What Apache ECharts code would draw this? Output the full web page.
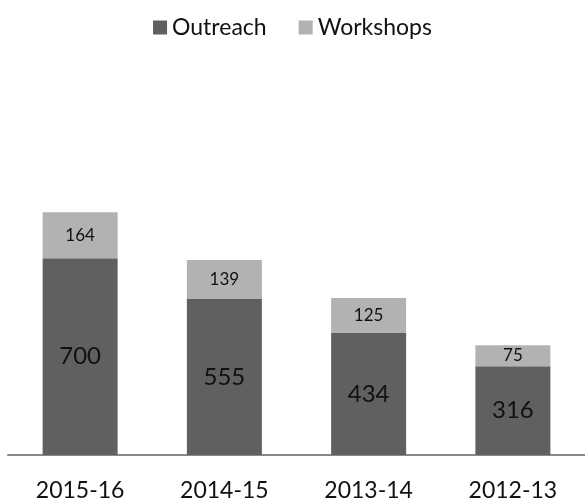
<!DOCTYPE html>
<html>
<head>
<meta charset="utf-8">
<script src="https://cdn.jsdelivr.net/npm/echarts@6/dist/echarts.min.js"></script>
<style>
  html, body { margin: 0; padding: 0; background: #fff; }
  #chart { width: 585px; height: 502px; }
</style>
</head>
<body>
<div id="chart"></div>
<script>
const categories = ["2015-16", "2014-15", "2013-14", "2012-13"];
const outreach = [700, 555, 434, 316];
const workshops = [164, 139, 125, 75];

const font = "Lato, 'Open Sans', sans-serif";
const chart = echarts.init(document.getElementById("chart"));
chart.setOption({
  animation: false,
  color: ["#606060", "#b2b2b2"],
  legend: {
    top: 11,
    left: "center",
    itemWidth: 14,
    itemHeight: 14,
    itemGap: 32,
    icon: "rect",
    textStyle: { fontFamily: font, fontSize: 23, color: "#111" },
    data: ["Outreach", "Workshops"],
  },
  grid: {
    left: 8,
    width: 584,
    top: 174,
    height: 281,
  },
  xAxis: {
    type: "category",
    data: categories,
    axisLine: { lineStyle: { color: "#888", width: 2 } },
    axisTick: { show: false },
    axisLabel: {
      fontFamily: font,
      fontSize: 23,
      color: "#111",
      margin: 24,
    },
  },
  yAxis: {
    type: "value",
    min: 0,
    max: 1000,
    show: false,
    splitLine: { show: false },
  },
  series: [
    {
      name: "Outreach",
      type: "bar",
      stack: "total",
      barWidth: 75,
      data: outreach,
      label: {
        show: true,
        position: "inside",
        fontFamily: font,
        fontSize: 24,
        color: "#111",
      },
    },
    {
      name: "Workshops",
      type: "bar",
      stack: "total",
      barWidth: 75,
      data: workshops,
      label: {
        show: true,
        position: "inside",
        fontFamily: font,
        fontSize: 17,
        color: "#111",
      },
    },
  ],
});
</script>
</body>
</html>
